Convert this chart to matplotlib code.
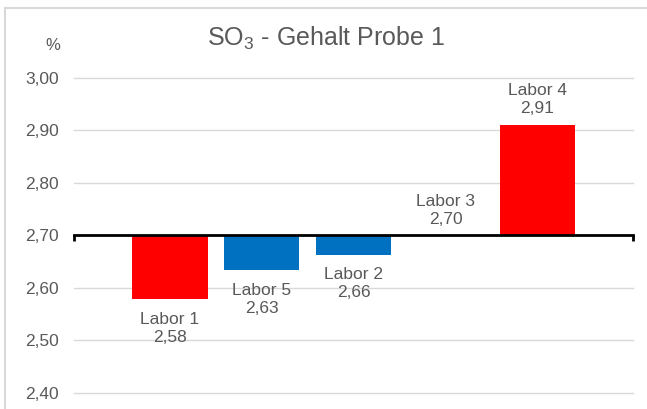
import matplotlib
matplotlib.use("Agg")
import matplotlib.pyplot as plt
from matplotlib.lines import Line2D

plt.rcParams['font.family'] = ['Liberation Sans', 'DejaVu Sans']
plt.rcParams['mathtext.fontset'] = 'custom'
plt.rcParams['mathtext.rm'] = 'Liberation Sans'

labels = ["Labor 1", "Labor 5", "Labor 2", "Labor 3", "Labor 4"]
values = [2.578, 2.633, 2.663, 2.70, 2.911]
colors = ["#FF0000", "#0070C0", "#0070C0", "#0070C0", "#FF0000"]
baseline = 2.70
yticks = [2.40, 2.50, 2.60, 2.70, 2.80, 2.90, 3.00]

W, H = 647, 409
fig = plt.figure(figsize=(W / 100, H / 100), dpi=100)
ax = fig.add_axes([74.4 / W, 1 - 392.7 / H, (633 - 74.4) / W, (392.7 - 78) / H])

txt = "#595959"
xs = list(range(len(labels)))
heights = [v - baseline for v in values]
ax.bar(xs, heights, bottom=baseline, width=0.82, color=colors, zorder=3)

ax.set_xlim(-1.04, len(labels) - 1 + 1.04)
ax.set_ylim(2.40, 3.00)
ax.set_yticks(yticks)
ax.set_yticklabels([f"{t:.2f}".replace(".", ",") for t in yticks], color=txt, fontsize=12.5)
ax.tick_params(axis='y', length=0, pad=11)
for t in yticks:
    if abs(t - baseline) > 1e-9:
        ax.axhline(t, color="#D9D9D9", lw=1, zorder=1, clip_on=False)

for s in ['top', 'right', 'left']:
    ax.spines[s].set_visible(False)
ax.spines['bottom'].set_position(('data', baseline))
ax.spines['bottom'].set_linewidth(2)
ax.spines['bottom'].set_zorder(4)
ax.set_xticks([ax.get_xlim()[0], ax.get_xlim()[1]])
ax.set_xticklabels(["", ""])
ax.tick_params(axis='x', direction='out', length=4, width=2, color='black')

for x, v, lab in zip(xs, values, labels):
    s = f"{lab}\n{v:.2f}".replace(".", ",")
    if v < baseline:
        ax.annotate(s, (x, v), xytext=(0, -9), textcoords='offset points',
                    ha='center', va='top', fontsize=12.5, color=txt, linespacing=1.25)
    else:
        ax.annotate(s, (x, v), xytext=(0, 6), textcoords='offset points',
                    ha='center', va='bottom', fontsize=12.5, color=txt, linespacing=1.25)

fig.text(326 / W, 1 - 38 / H, r"SO$_\mathregular{3}$ - Gehalt Probe 1", ha='center', va='center',
         fontsize=18, color=txt)
fig.text(53 / W, 1 - 46 / H, "%", ha='center', va='center', fontsize=12, color=txt)

# chart border (top and left edges visible)
bc = "#D9D9D9"
fig.add_artist(Line2D([5 / W, 1.0], [1 - 8 / H, 1 - 8 / H], transform=fig.transFigure, color=bc, lw=1.5))
fig.add_artist(Line2D([5 / W, 5 / W], [1 - 8 / H, 0], transform=fig.transFigure, color=bc, lw=1.5))

fig.savefig("out.png", dpi=100)
